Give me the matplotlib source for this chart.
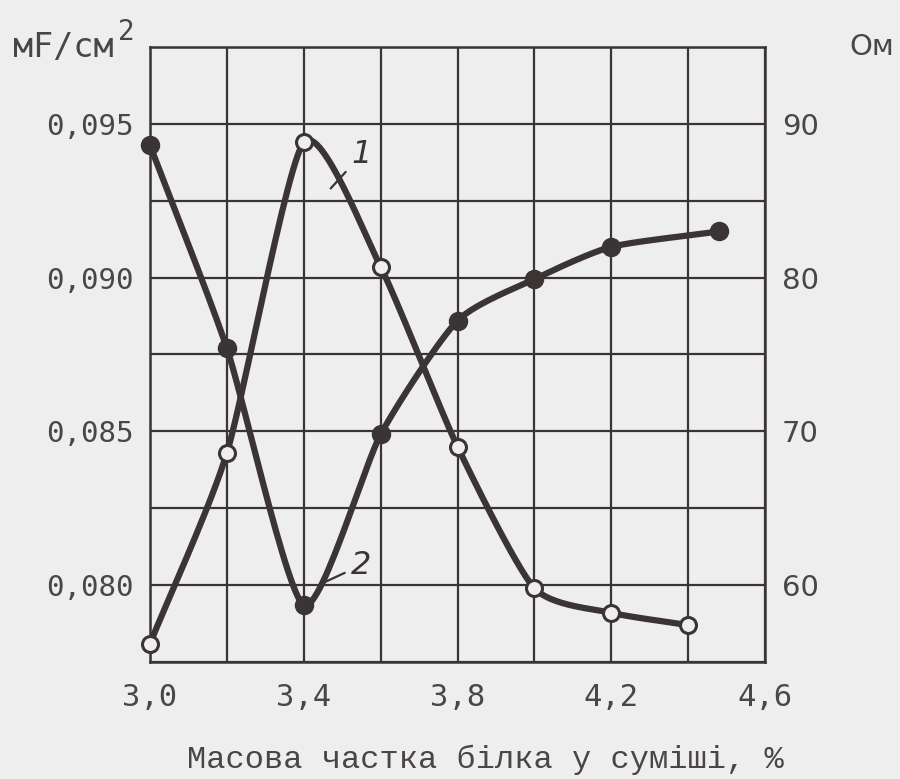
import numpy as np
import matplotlib
matplotlib.use("Agg")
import matplotlib.pyplot as plt

# ---- data ----
x_c1 = [3.0, 3.2, 3.4, 3.6, 3.8, 4.0, 4.2, 4.4]
c1_mf = [0.0781, 0.0843, 0.0944, 0.09035, 0.0845, 0.0799, 0.0791, 0.0787]
x_c2 = [3.0, 3.2, 3.4, 3.6, 3.8, 4.0, 4.2, 4.48]
c2_ohm = [88.6, 75.4, 58.7, 69.8, 77.2, 79.9, 82.0, 83.0]

x_major = [3.0, 3.4, 3.8, 4.2, 4.6]
x_major_labels = ["3,0", "3,4", "3,8", "4,2", "4,6"]
x_minor = [3.2, 3.6, 4.0, 4.4]
yl_major = [0.080, 0.085, 0.090, 0.095]
yl_labels = ["0,080", "0,085", "0,090", "0,095"]
yl_minor = [0.0775, 0.0825, 0.0875, 0.0925, 0.0975]
yr_major = [60, 70, 80, 90]
yr_labels = ["60", "70", "80", "90"]

BG = "#eeeeee"
INK = "#3a3434"
TXT = "#4a4646"


def smooth(x, y, sx, sy, tension=0.35, n=30):
    """Cardinal-spline rendering of a hand-drawn curve through the data points."""
    P = np.column_stack([np.asarray(x, float) / sx, np.asarray(y, float) / sy])
    m = np.zeros_like(P)
    m[1:-1] = (1 - tension) * (P[2:] - P[:-2]) / 2
    m[0] = (1 - tension) * (P[1] - P[0])
    m[-1] = (1 - tension) * (P[-1] - P[-2])
    t = np.linspace(0, 1, n)[:, None]
    h00 = 2 * t**3 - 3 * t**2 + 1
    h10 = t**3 - 2 * t**2 + t
    h01 = -2 * t**3 + 3 * t**2
    h11 = t**3 - t**2
    out = []
    for i in range(len(P) - 1):
        seg = h00 * P[i] + h10 * m[i] + h01 * P[i + 1] + h11 * m[i + 1]
        out.append(seg if i == 0 else seg[1:])
    S = np.vstack(out)
    return S[:, 0] * sx, S[:, 1] * sy


fig = plt.figure(figsize=(9, 7.79), dpi=100, facecolor=BG)
ax = fig.add_axes([0.1667, 0.1502, 0.6833, 0.7895])
ax.set_facecolor(BG)
ax.set_xlim(3.0, 4.6)
ax.set_ylim(0.0775, 0.0975)

ax.set_xticks(x_major)
ax.set_xticklabels(x_major_labels)
ax.set_xticks(x_minor, minor=True)
ax.set_yticks(yl_major)
ax.set_yticklabels(yl_labels)
ax.set_yticks(yl_minor, minor=True)
ax.grid(True, which="both", color=INK, lw=1.6)
ax.set_axisbelow(True)
for s in ax.spines.values():
    s.set_color(INK)
    s.set_linewidth(1.8)
ax.tick_params(which="both", length=0)
ax.tick_params(axis="x", pad=15, labelsize=22, labelcolor=TXT)
ax.tick_params(axis="y", pad=12, labelsize=21, labelcolor=TXT)
for lab in ax.get_xticklabels() + ax.get_yticklabels():
    lab.set_family("DejaVu Sans Mono")

ax2 = ax.twinx()
ax2.set_ylim(55, 95)
ax2.set_yticks(yr_major)
ax2.set_yticklabels(yr_labels)
ax2.tick_params(length=0, pad=12, labelsize=21, labelcolor=TXT)
for lab in ax2.get_yticklabels():
    lab.set_family("DejaVu Sans")
for s in ax2.spines.values():
    s.set_visible(False)

# curve 1 (left axis), open markers
sx1, sy1 = smooth(x_c1, c1_mf, 0.2, 0.0025)
ax.plot(sx1, sy1, color=INK, lw=4.5, solid_capstyle="round", zorder=3, clip_on=False)
ax.plot(x_c1, c1_mf, ls="none", marker="o", ms=11.5, mfc=BG, mec=INK, mew=2.2,
        zorder=4, clip_on=False)

# curve 2 (right axis), filled markers
sx2, sy2 = smooth(x_c2, c2_ohm, 0.2, 5.0)
ax2.plot(sx2, sy2, color=INK, lw=4.5, solid_capstyle="round", zorder=3, clip_on=False)
ax2.plot(x_c2, c2_ohm, ls="none", marker="o", ms=13, color=INK, zorder=4, clip_on=False)

# curve labels
ax.annotate("1", xy=(3.47, 0.0929), xytext=(3.55, 0.0940), fontsize=23,
            style="italic", color=INK, ha="center", va="center",
            arrowprops=dict(arrowstyle="-", color=INK, lw=1.6, shrinkA=3, shrinkB=0))
ax.annotate("2", xy=(3.455, 0.0801), xytext=(3.55, 0.08065), fontsize=23,
            style="italic", color=INK, ha="center", va="center",
            arrowprops=dict(arrowstyle="-", color=INK, lw=1.6, shrinkA=3, shrinkB=0))

# axis titles
fig.text(13 / 900, 1 - 57 / 779, "мF/см", fontsize=24, color=TXT,
         family="DejaVu Sans Mono", ha="left", va="baseline")
fig.text(118 / 900, 1 - 40 / 779, "2", fontsize=20, color=TXT,
         family="DejaVu Sans Mono", ha="left", va="baseline")
fig.text(894 / 900, 1 - 47 / 779, "Ом", fontsize=21, color=TXT,
         family="DejaVu Sans", ha="right", va="center")
fig.text(485 / 900, 1 - 760 / 779, "Масова частка білка у суміші, %", fontsize=23,
         color=TXT, family="Liberation Mono", ha="center", va="center")

fig.savefig("out.png", dpi=100, facecolor=BG)
